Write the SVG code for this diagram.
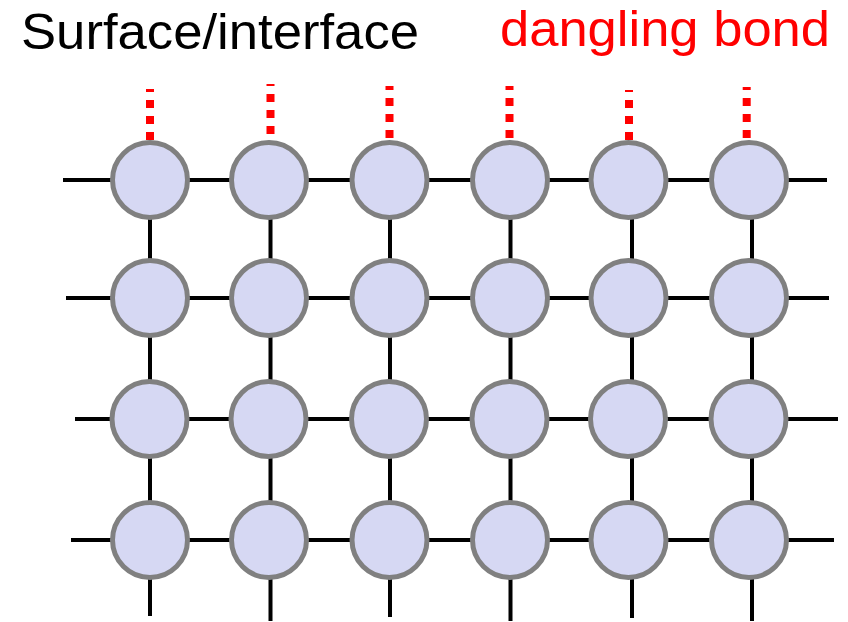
<svg xmlns="http://www.w3.org/2000/svg" width="848" height="622" viewBox="0 0 848 622">
  <style>
    .bond { stroke: #000000; stroke-width: 4; fill: none; }
    .dangling { stroke: #FF0000; stroke-width: 8; stroke-dasharray: 8 8; fill: none; }
    .atom { fill: #D6D8F3; stroke: #808080; stroke-width: 5; }
    .label { font-family: "Liberation Sans", Arial, sans-serif; }
  </style>
  <rect width="848" height="622" fill="#FFFFFF"/>

  <text class="label" x="21" y="49" font-size="50" fill="#000000" textLength="398" lengthAdjust="spacingAndGlyphs">Surface/interface</text>
  <text class="label" x="500" y="46" font-size="50" fill="#FF0000" textLength="330" lengthAdjust="spacingAndGlyphs">dangling bond</text>

  <!-- lattice bonds -->
  <g id="connectors">
    <line class="bond" x1="63" y1="180" x2="827" y2="180"/>
    <line class="bond" x1="66" y1="298" x2="829" y2="298"/>
    <line class="bond" x1="75" y1="419" x2="838" y2="419"/>
    <line class="bond" x1="71" y1="540" x2="834" y2="540"/>

    <line class="bond" x1="150" y1="180" x2="150" y2="616"/>
    <line class="bond" x1="270.5" y1="180" x2="270.5" y2="621"/>
    <line class="bond" x1="390" y1="180" x2="390" y2="617"/>
    <line class="bond" x1="510.5" y1="180" x2="510.5" y2="621"/>
    <line class="bond" x1="632" y1="180" x2="632" y2="618"/>
    <line class="bond" x1="752" y1="180" x2="752" y2="621"/>

    <!-- unsaturated bonds on the top layer -->
    <line class="dangling" x1="150" y1="140" x2="150" y2="89"/>
    <line class="dangling" x1="270.5" y1="134" x2="270.5" y2="84"/>
    <line class="dangling" x1="389.5" y1="138" x2="389.5" y2="86"/>
    <line class="dangling" x1="509.5" y1="138" x2="509.5" y2="86"/>
    <line class="dangling" x1="629" y1="140" x2="629" y2="90"/>
    <line class="dangling" x1="746.7" y1="138" x2="746.7" y2="87"/>
  </g>

  <!-- atoms -->
  <g id="atom-r1c1"><circle class="atom" cx="150" cy="180" r="37.5"/></g>
  <g id="atom-r1c2"><circle class="atom" cx="269" cy="180" r="37.5"/></g>
  <g id="atom-r1c3"><circle class="atom" cx="389.5" cy="180" r="37.5"/></g>
  <g id="atom-r1c4"><circle class="atom" cx="510" cy="180" r="37.5"/></g>
  <g id="atom-r1c5"><circle class="atom" cx="628.5" cy="180" r="37.5"/></g>
  <g id="atom-r1c6"><circle class="atom" cx="749" cy="180" r="37.5"/></g>

  <g id="atom-r2c1"><circle class="atom" cx="150" cy="298" r="37.5"/></g>
  <g id="atom-r2c2"><circle class="atom" cx="269" cy="298" r="37.5"/></g>
  <g id="atom-r2c3"><circle class="atom" cx="389.5" cy="298" r="37.5"/></g>
  <g id="atom-r2c4"><circle class="atom" cx="510" cy="298" r="37.5"/></g>
  <g id="atom-r2c5"><circle class="atom" cx="628.5" cy="298" r="37.5"/></g>
  <g id="atom-r2c6"><circle class="atom" cx="749" cy="298" r="37.5"/></g>

  <g id="atom-r3c1"><circle class="atom" cx="149.5" cy="419" r="37.5"/></g>
  <g id="atom-r3c2"><circle class="atom" cx="268.5" cy="419" r="37.5"/></g>
  <g id="atom-r3c3"><circle class="atom" cx="389" cy="419" r="37.5"/></g>
  <g id="atom-r3c4"><circle class="atom" cx="509.5" cy="419" r="37.5"/></g>
  <g id="atom-r3c5"><circle class="atom" cx="628" cy="419" r="37.5"/></g>
  <g id="atom-r3c6"><circle class="atom" cx="748.5" cy="419" r="37.5"/></g>

  <g id="atom-r4c1"><circle class="atom" cx="150" cy="540" r="37.5"/></g>
  <g id="atom-r4c2"><circle class="atom" cx="269" cy="540" r="37.5"/></g>
  <g id="atom-r4c3"><circle class="atom" cx="389.5" cy="540" r="37.5"/></g>
  <g id="atom-r4c4"><circle class="atom" cx="510" cy="540" r="37.5"/></g>
  <g id="atom-r4c5"><circle class="atom" cx="628.5" cy="540" r="37.5"/></g>
  <g id="atom-r4c6"><circle class="atom" cx="749" cy="540" r="37.5"/></g>
</svg>
